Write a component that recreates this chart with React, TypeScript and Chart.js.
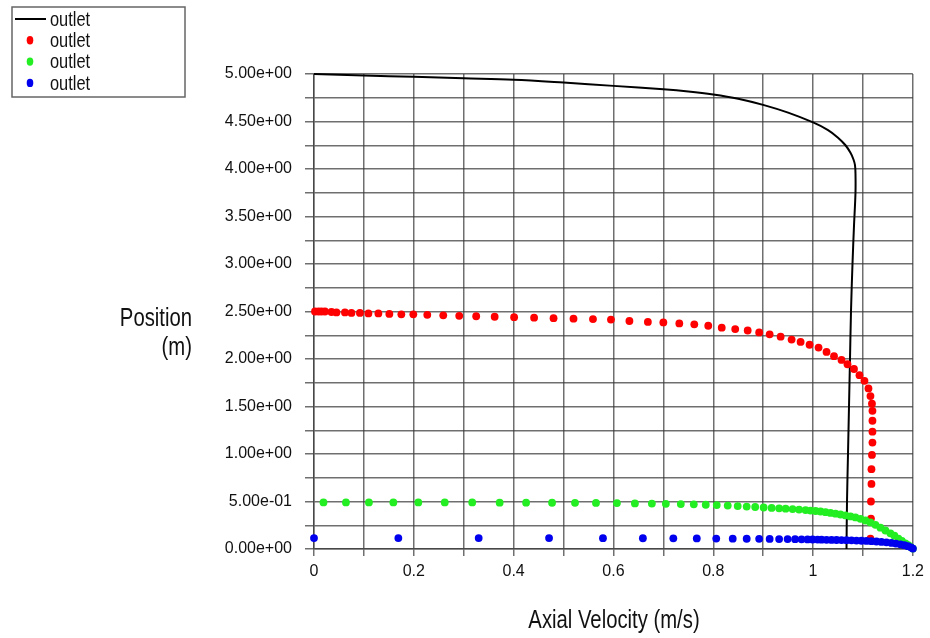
import React, { useEffect, useRef } from "react";
import { Chart, registerables } from "chart.js";

Chart.register(...registerables);

const FONT = "'Liberation Sans', Arial, sans-serif";
const SQUEEZE = 0.78;

const seriesLabels = ["outlet", "outlet", "outlet", "outlet"];
const seriesColors = ["#000000", "#ff0000", "#22ee22", "#0000ee"];

const xTitle = "Axial Velocity (m/s)";
const yTitleLines = ["Position", "(m)"];

// black line
const lineVelocity = [0, 0.1, 0.2, 0.3, 0.4, 0.5, 0.6, 0.7, 0.75, 0.8, 0.85, 0.9, 0.95, 1.0, 1.03, 1.05, 1.065, 1.075, 1.081, 1.084, 1.085, 1.085, 1.082, 1.079, 1.076, 1.074, 1.072, 1.07, 1.068, 1.067];
const linePosition = [5.0, 4.985, 4.97, 4.955, 4.94, 4.91, 4.875, 4.84, 4.817, 4.785, 4.74, 4.675, 4.593, 4.49, 4.41, 4.33, 4.25, 4.17, 4.1, 4.04, 3.95, 3.75, 3.4, 3.0, 2.5, 2.0, 1.5, 1.0, 0.5, 0];

// red dots
const redVelocity = [0.002, 0.009, 0.015, 0.022, 0.035, 0.045, 0.062, 0.075, 0.092, 0.109, 0.129, 0.151, 0.175, 0.199, 0.227, 0.259, 0.291, 0.325, 0.362, 0.401, 0.441, 0.48, 0.52, 0.559, 0.595, 0.632, 0.669, 0.7, 0.732, 0.762, 0.79, 0.817, 0.844, 0.869, 0.892, 0.913, 0.935, 0.957, 0.975, 0.993, 1.011, 1.027, 1.042, 1.057, 1.069, 1.082, 1.093, 1.103, 1.111, 1.115, 1.118, 1.119, 1.119, 1.119, 1.119, 1.118, 1.117, 1.117, 1.116, 1.116, 1.115];
const redPosition = [2.5, 2.5, 2.5, 2.5, 2.495, 2.49, 2.49, 2.485, 2.485, 2.48, 2.48, 2.475, 2.47, 2.47, 2.465, 2.46, 2.455, 2.45, 2.445, 2.44, 2.435, 2.43, 2.425, 2.42, 2.415, 2.4, 2.39, 2.385, 2.375, 2.365, 2.35, 2.33, 2.315, 2.3, 2.28, 2.26, 2.235, 2.205, 2.18, 2.15, 2.12, 2.075, 2.03, 1.99, 1.945, 1.895, 1.83, 1.77, 1.69, 1.61, 1.53, 1.455, 1.35, 1.235, 1.12, 0.99, 0.84, 0.685, 0.5, 0.32, 0.11];

// green dots
const greenVelocity = [0.019, 0.064, 0.11, 0.159, 0.209, 0.262, 0.317, 0.372, 0.425, 0.477, 0.523, 0.565, 0.607, 0.643, 0.677, 0.705, 0.735, 0.761, 0.785, 0.807, 0.829, 0.849, 0.867, 0.884, 0.901, 0.917, 0.932, 0.945, 0.959, 0.972, 0.985, 0.995, 1.005, 1.015, 1.025, 1.035, 1.045, 1.055, 1.065, 1.075, 1.085, 1.095, 1.105, 1.115, 1.125, 1.135, 1.145, 1.155, 1.163, 1.171, 1.178, 1.185, 1.191, 1.196, 1.2];
const greenPosition = [0.49, 0.49, 0.49, 0.49, 0.49, 0.49, 0.49, 0.488, 0.488, 0.487, 0.486, 0.485, 0.483, 0.48, 0.478, 0.476, 0.473, 0.47, 0.466, 0.462, 0.457, 0.452, 0.447, 0.442, 0.437, 0.432, 0.428, 0.424, 0.42, 0.415, 0.41, 0.405, 0.4, 0.395, 0.388, 0.38, 0.372, 0.363, 0.353, 0.343, 0.332, 0.318, 0.3, 0.28, 0.255, 0.225, 0.195, 0.165, 0.14, 0.11, 0.085, 0.06, 0.04, 0.02, 0.005];

// blue dots
const blueVelocity = [0.0, 0.169, 0.33, 0.471, 0.579, 0.659, 0.72, 0.767, 0.806, 0.839, 0.867, 0.892, 0.913, 0.932, 0.949, 0.964, 0.977, 0.989, 0.999, 1.009, 1.017, 1.027, 1.037, 1.047, 1.057, 1.067, 1.077, 1.087, 1.097, 1.107, 1.117, 1.127, 1.137, 1.147, 1.157, 1.166, 1.175, 1.183, 1.19, 1.196, 1.2];
const bluePosition = [0.115, 0.115, 0.115, 0.115, 0.114, 0.113, 0.112, 0.111, 0.11, 0.109, 0.108, 0.107, 0.106, 0.105, 0.104, 0.103, 0.102, 0.101, 0.1, 0.099, 0.098, 0.097, 0.096, 0.095, 0.094, 0.093, 0.091, 0.089, 0.087, 0.085, 0.082, 0.079, 0.075, 0.07, 0.064, 0.057, 0.049, 0.04, 0.03, 0.018, 0.005];

const xMin = 0, xMax = 1.2, xStep = 0.1;
const yMin = 0, yMax = 5, yStep = 0.25;

const toPoints = (xs: number[], ys: number[]) => xs.map((x, i) => ({ x, y: ys[i] }));

const fmtExp = (v: number) => {
  const s = v.toExponential(2);
  const [m, e] = s.split("e");
  const sign = e[0];
  const digits = e.slice(1).padStart(2, "0");
  return `${m}e${sign}${digits}`;
};

const GRID = "rgba(55,55,55,0.72)";

const squeezedText = (ctx: any, text: string, x: number, y: number, align: "left" | "right" | "center") => {
  ctx.save();
  ctx.translate(x, y);
  ctx.scale(SQUEEZE, 1);
  ctx.textAlign = align;
  ctx.fillText(text, 0, 0);
  ctx.restore();
};

const textPlugin = {
  id: "boxLegendAndTitles",
  afterDraw(chart: any) {
    const ctx = chart.ctx;
    ctx.save();
    // legend box
    ctx.strokeStyle = "#666";
    ctx.lineWidth = 1.5;
    ctx.strokeRect(12, 7, 173, 90);
    const ds = chart.data.datasets;
    ds.forEach((d: any, i: number) => {
      const y = 19 + i * 21.3;
      if (i === 0) {
        ctx.strokeStyle = d.borderColor;
        ctx.lineWidth = 2;
        ctx.beginPath();
        ctx.moveTo(15, y);
        ctx.lineTo(46, y);
        ctx.stroke();
      } else {
        ctx.fillStyle = d.backgroundColor;
        ctx.beginPath();
        ctx.ellipse(30, y, 3.3, 4.2, 0, 0, Math.PI * 2);
        ctx.fill();
      }
      ctx.fillStyle = "#111";
      ctx.font = `21px ${FONT}`;
      ctx.textBaseline = "middle";
      squeezedText(ctx, d.label, 50, y + 1, "left");
    });
    // y-axis title (horizontal, right aligned)
    ctx.fillStyle = "#111";
    ctx.font = `26px ${FONT}`;
    ctx.textBaseline = "alphabetic";
    squeezedText(ctx, yTitleLines[0], 192, 326, "right");
    squeezedText(ctx, yTitleLines[1], 192, 355, "right");
    // x-axis title
    const area = chart.chartArea;
    squeezedText(ctx, xTitle, 614, 628, "center");
    ctx.restore();
  },
};

export default function App() {
  const ref = useRef<HTMLCanvasElement | null>(null);
  useEffect(() => {
    if (!ref.current) return;
    const chart = new Chart(ref.current, {
      type: "scatter",
      data: {
        datasets: [
          {
            label: seriesLabels[0],
            data: toPoints(lineVelocity, linePosition),
            showLine: true,
            borderColor: seriesColors[0],
            backgroundColor: seriesColors[0],
            borderWidth: 2,
            pointRadius: 0,
            tension: 0.35,
            order: 3,
            clip: false as any,
          },
          {
            label: seriesLabels[1],
            data: toPoints(redVelocity, redPosition),
            borderColor: seriesColors[1],
            backgroundColor: seriesColors[1],
            pointRadius: 3.9,
            pointBorderWidth: 0,
            order: 2,
            clip: false as any,
          },
          {
            label: seriesLabels[2],
            data: toPoints(greenVelocity, greenPosition),
            borderColor: seriesColors[2],
            backgroundColor: seriesColors[2],
            pointRadius: 3.9,
            pointBorderWidth: 0,
            order: 1,
            clip: false as any,
          },
          {
            label: seriesLabels[3],
            data: toPoints(blueVelocity, bluePosition),
            borderColor: seriesColors[3],
            backgroundColor: seriesColors[3],
            pointRadius: 3.9,
            pointBorderWidth: 0,
            order: 0,
            clip: false as any,
          },
        ],
      },
      options: {
        responsive: false,
        animation: false,
        layout: { padding: { top: 74, right: 16, bottom: 0, left: 0 } },
        plugins: { legend: { display: false }, tooltip: { enabled: false } },
        scales: {
          x: {
            type: "linear",
            min: xMin,
            max: xMax,
            afterFit: (s: any) => { s.height = 89; },
            grid: { color: GRID, lineWidth: 1.5, tickLength: 7, tickColor: GRID },
            border: { color: GRID, width: 1.5 },
            ticks: {
              stepSize: xStep,
              autoSkip: false,
              maxRotation: 0,
              padding: 6,
              color: "#111",
              font: { family: FONT, size: 16 },
              callback: (v: any) => {
                const n = Math.round(Number(v) * 10);
                if (n % 2 !== 0) return "";
                return String(Number((n / 10).toFixed(1)));
              },
            },
            title: { display: false, text: xTitle },
          },
          y: {
            type: "linear",
            min: yMin,
            max: yMax,
            afterFit: (s: any) => { s.width = 314; },
            grid: { color: GRID, lineWidth: 1.5, tickLength: 9, tickColor: GRID },
            border: { color: GRID, width: 1.5 },
            ticks: {
              stepSize: yStep,
              autoSkip: false,
              padding: 13,
              color: "#111",
              font: { family: FONT, size: 16 },
              callback: (v: any) => {
                const n = Math.round(Number(v) * 4);
                if (n % 2 !== 0) return "";
                return fmtExp(n / 4);
              },
            },
          },
        },
      },
      plugins: [textPlugin],
    } as any);
    return () => chart.destroy();
  }, []);
  return (
    <div style={{ position: "absolute", left: 0, top: 0, width: 930, height: 638, background: "#fff" }}>
      <canvas ref={ref} width={930} height={638} style={{ display: "block" }} />
    </div>
  );
}
